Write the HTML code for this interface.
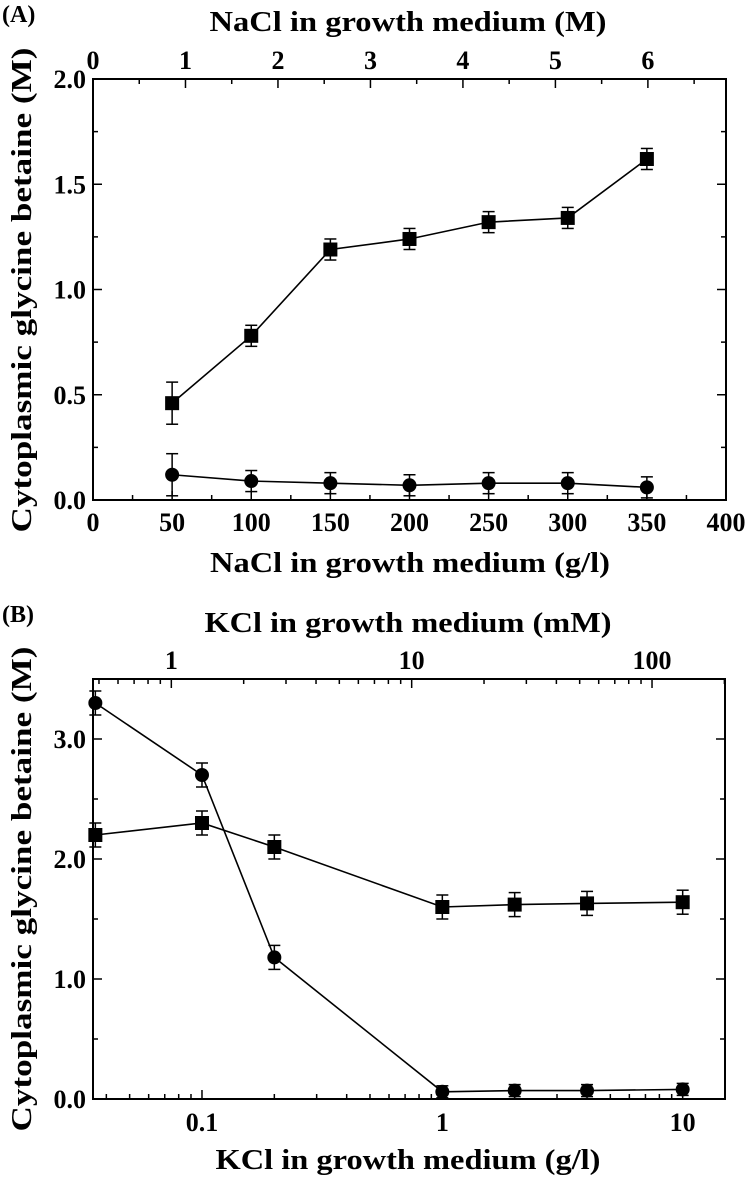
<!DOCTYPE html>
<html><head><meta charset="utf-8"><style>
html,body{margin:0;padding:0;background:#fff;}
svg{display:block;font-family:"Liberation Serif",serif;font-weight:bold;}
</style></head><body>
<svg id="fig" width="750" height="1177" viewBox="0 0 750 1177" xmlns="http://www.w3.org/2000/svg">
<text x="2" y="22" font-size="24">(A)</text>
<text x="408" y="31" font-size="28" text-anchor="middle" textLength="397" lengthAdjust="spacingAndGlyphs">NaCl in growth medium (M)</text>
<text x="410" y="572" font-size="28" text-anchor="middle" textLength="400" lengthAdjust="spacingAndGlyphs">NaCl in growth medium (g/l)</text>
<text transform="translate(31,290) rotate(-90)" font-size="29" text-anchor="middle" textLength="485" lengthAdjust="spacingAndGlyphs">Cytoplasmic glycine betaine (M)</text>
<text x="2" y="622" font-size="24">(B)</text>
<text x="408" y="632" font-size="28" text-anchor="middle" textLength="407" lengthAdjust="spacingAndGlyphs">KCl in growth medium (mM)</text>
<text x="408" y="1169" font-size="28" text-anchor="middle" textLength="385" lengthAdjust="spacingAndGlyphs">KCl in growth medium (g/l)</text>
<text transform="translate(31,889) rotate(-90)" font-size="29" text-anchor="middle" textLength="485" lengthAdjust="spacingAndGlyphs">Cytoplasmic glycine betaine (M)</text>
<g id="ga"></g><g id="gb"></g>
</svg>
<script>
// Panel A data
const aX = [50,100,150,200,250,300,350];
const aSquare = [0.46,0.78,1.19,1.24,1.32,1.34,1.62];
const aSquareErr = [0.10,0.05,0.05,0.05,0.05,0.05,0.05];
const aCircle = [0.12,0.09,0.08,0.07,0.08,0.08,0.06];
const aCircleErr = [0.10,0.05,0.05,0.05,0.05,0.05,0.05];
const aXTicks = [0,50,100,150,200,250,300,350,400];
const aYTicks = ["0.0","0.5","1.0","1.5","2.0"];
const aTopTicks = [0,1,2,3,4,5,6];
// Panel B data
const bX = [0.036,0.1,0.2,1,2,4,10];
const bSquare = [2.2,2.3,2.1,1.6,1.62,1.63,1.64];
const bSquareErr = [0.1,0.1,0.1,0.1,0.1,0.1,0.1];
const bCircle = [3.3,2.7,1.18,0.06,0.07,0.07,0.08];
const bCircleErr = [0.1,0.1,0.1,0.05,0.05,0.05,0.05];
const bXTicks = ["0.1","1","10"];
const bYTicks = ["0.0","1.0","2.0","3.0"];
const bTopTicks = ["1","10","100"];

const NS="http://www.w3.org/2000/svg";
const FS=26;
function mk(parent,tag,attrs){const e=document.createElementNS(NS,tag);for(const k in attrs)e.setAttribute(k,attrs[k]);parent.appendChild(e);return e;}
function line(g,x1,y1,x2,y2,w){return mk(g,'line',{x1,y1,x2,y2,stroke:'#000','stroke-width':w||1.5});}
function txt(g,x,y,s,size,anchor){const t=mk(g,'text',{x,y,'font-size':size,'text-anchor':anchor||'middle'});t.textContent=s;return t;}

function series(g,xs,ys,es,sx,sy,shape,name){
  let d='';
  xs.forEach((v,i)=>{d+=(i?'L':'M')+sx(v)+','+sy(ys[i]);});
  const p=mk(g,'path',{d,fill:'none',stroke:'#000','stroke-width':1.6});
  
  
  xs.forEach((v,i)=>{
    const cx=sx(v),cy=sy(ys[i]),t=sy(ys[i]+es[i]),b=sy(ys[i]-es[i]);
    const eg=mk(g,'g',{});
    
    
    line(eg,cx,t,cx,b,1.5);line(eg,cx-6,t,cx+6,t,1.5);line(eg,cx-6,b,cx+6,b,1.5);
    let m;
    if(shape==='sq') m=mk(g,'rect',{x:cx-7,y:cy-7,width:14,height:14,fill:'#000'});
    else m=mk(g,'circle',{cx,cy,r:7,fill:'#000'});
    
    
  });
}

// Panel A
(function(){
  const g=document.getElementById('ga');
  const L=93,R=726,T=79,B=500;
  const sx=v=>L+(v/400)*(R-L), sy=v=>B-(v/2)*(B-T);
  const fr=mk(g,'rect',{x:L,y:T,width:R-L,height:B-T,fill:'none',stroke:'#000','stroke-width':2});
  
  
  for(let v=0;v<=400;v+=25){const x=sx(v),len=v%50===0?9:5;line(g,x,B,x,B-len);}
  aXTicks.forEach(v=>{const t=txt(g,sx(v),B+31,String(v),FS);});
  for(let v=0;v<=2.0001;v+=0.25){const y=sy(v),len=Math.abs(v*2-Math.round(v*2))<1e-6?9:5;line(g,L,y,L+len,y);line(g,R,y,R-len,y);}
  aYTicks.forEach(s=>{const t=txt(g,L-7,sy(+s)+9,s,FS,'end');});
  for(let m=0;m<=6.5;m+=0.5){const x=sx(m*58.44);if(x>R)break;line(g,x,T,x,T+(m%1===0?9:5));}
  aTopTicks.forEach(m=>{const t=txt(g,sx(m*58.44),T-10,String(m),FS);});
  series(g,aX,aSquare,aSquareErr,sx,sy,'sq','panel-a-square-series');
  series(g,aX,aCircle,aCircleErr,sx,sy,'ci','panel-a-circle-series');
})();

// Panel B
(function(){
  const g=document.getElementById('gb');
  const L=93,R=725,T=679,B=1099;
  const lmin=Math.log10(0.0352),lmax=Math.log10(15);
  const sx=v=>L+(Math.log10(v)-lmin)/(lmax-lmin)*(R-L), sy=v=>B-(v/3.5)*(B-T);
  const fr=mk(g,'rect',{x:L,y:T,width:R-L,height:B-T,fill:'none',stroke:'#000','stroke-width':2});
  
  
  for(let e=-2;e<=1;e++)for(let k=1;k<=9;k++){const v=k*Math.pow(10,e),x=sx(v);if(x<L||x>R)continue;line(g,x,B,x,B-(k===1?9:5));}
  bXTicks.forEach(s=>{const t=txt(g,sx(+s),B+32,s,FS);});
  for(let e=-1;e<=3;e++)for(let k=1;k<=9;k++){const mm=k*Math.pow(10,e),x=sx(mm*0.07455);if(x<L||x>R)continue;line(g,x,T,x,T+(k===1?9:5));}
  bTopTicks.forEach(s=>{const t=txt(g,sx(+s*0.07455),T-10,s,FS);});
  for(let v=0;v<=3.5001;v+=0.5){const y=sy(v),len=Math.abs(v-Math.round(v))<1e-6?9:5;line(g,L,y,L+len,y);line(g,R,y,R-len,y);}
  bYTicks.forEach(s=>{const t=txt(g,L-7,sy(+s)+9,s,FS,'end');});
  series(g,bX,bSquare,bSquareErr,sx,sy,'sq','panel-b-square-series');
  series(g,bX,bCircle,bCircleErr,sx,sy,'ci','panel-b-circle-series');
})();
</script>
</body></html>
